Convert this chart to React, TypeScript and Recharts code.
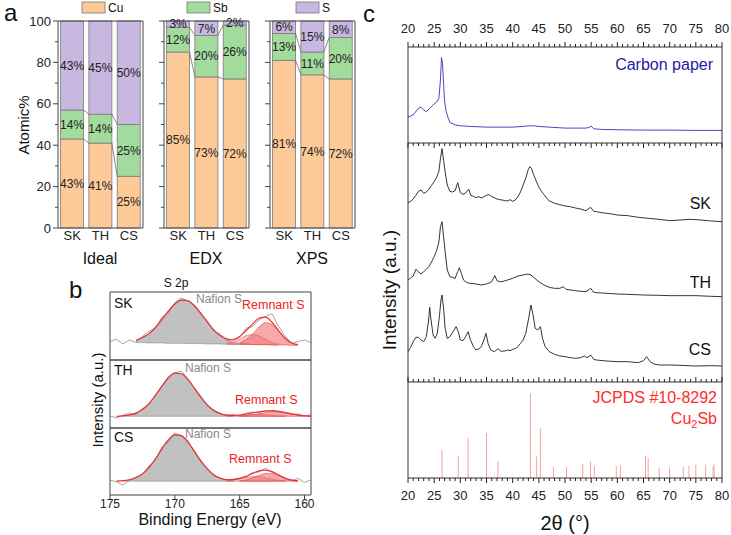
import React from "react";
import { BarChart, Bar, XAxis, YAxis, LabelList, ComposedChart, Line, Area } from "recharts";

const W = 731;
const H = 535;
const FONT = '"Liberation Sans", Arial, sans-serif';
const AX = "#444";
const N = null;

// ---------- a: composition ----------
const samples = ["SK", "TH", "CS"];
const idealCu = [43, 41, 25];
const idealSb = [14, 14, 25];
const idealS = [43, 45, 50];
const edxCu = [85, 73, 72];
const edxSb = [12, 20, 26];
const edxS = [3, 7, 2];
const xpsCu = [81, 74, 72];
const xpsSb = [13, 11, 20];
const xpsS = [6, 15, 8];
const pctTicks = [0, 10, 20, 30, 40, 50, 60, 70, 80, 90, 100];

const CU = "#FDC997";
const SB = "#A3DB9D";
const SS = "#C8B7E1";

const A_TOP = 21;
const A_BOT = 228;
const A_W = 85;

// ---------- b: XPS S 2p ----------
const xpsEv = [175, 174.5, 174, 173.5, 173, 172.5, 172, 171.5, 171, 170.5, 170, 169.5, 169, 168.5, 168, 167.5,
  167, 166.5, 166, 165.5, 165, 164.5, 164, 163.5, 163, 162.5, 162, 161.5, 161, 160.5, 160, 159.5];

const skRaw = [55, 62, 48, 60, 52, 70, 85, 95, 128, 140, 172, 185, 176, 165, 135, 118, 85, 78, 58, 62, 68, 95, 100, 120, 130, 138, 100, 72, 50, 55, 60, 52];
const skFit = [N, N, N, N, 59, 67, 78, 97, 121, 146, 167, 179, 177, 162, 140, 113, 90, 73, 63, 60, 70, 88, 107, 125, 128, 112, 88, 65, 51, 46, N, N];
const skBg = [N, N, N, N, 52, 52, 51, 51, 51, 50, 50, 50, 49, 49, 49, 48, 48, 48, 47, 47, 47, 47, 46, 46, 46, 45, 45, 45, 44, 44, N, N];
const skNaf = [N, N, N, N, 7, 15, 27, 46, 70, 96, 117, 129, 128, 113, 91, 65, 42, 24, 13, 6, 2.5, 1, N, N, N, N, N, N, N, N, N, N];
const skR1 = [N, N, N, N, N, N, N, N, N, N, N, N, N, N, N, N, N, N, N, N, 4, 14, 31, 53, 66, 60, 40, 20, 7, 2, N, N];
const skR2 = [N, N, N, N, N, N, N, N, N, N, N, N, N, N, N, N, N, N, 2.5, 7, 16, 26, 30, 26, 16, 7, 2.5, N, N, N, N, N];

const thRaw = [36, 30, 38, 45, 40, 58, 70, 100, 122, 152, 165, 170, 148, 120, 95, 66, 50, 42, 38, 40, 36, 44, 48, 45, 52, 50, 48, 46, 40, 42, 36, 40];
const thFit = [N, 35, 36, 39, 44.5, 55, 73, 97, 125, 150, 164, 162, 145, 119, 92, 69, 53, 43, 38.5, 37.4, 38.6, 41.7, 45, 48.4, 50.4, 51.6, 49.7, 45.8, 42, 38.6, 36.5, 35.5];
const thBg = [N, 35, 35, 35, 35, 35, 35, 35, 35, 35, 35, 35, 35, 35, 35, 35, 35, 35, 35, 35, 35, 35, 35, 35, 35, 35, 35, 35, 35, 35, 35, 35];
const thNaf = [N, N, 1.4, 4, 9.5, 20, 38, 62, 90, 115, 129, 127, 110, 84, 57, 34, 18, 8, 3, 1, N, N, N, N, N, N, N, N, N, N, N, N];
const thR1 = [N, N, N, N, N, N, N, N, N, N, N, N, N, N, N, N, N, N, N, N, 0.7, 2, 4.2, 7.7, 11.5, 14, 13.5, 10.8, 7, 3.6, 1.5, 0.5];
const thR2 = [N, N, N, N, N, N, N, N, N, N, N, N, N, N, N, N, N, N, 0.5, 1.4, 2.9, 4.7, 5.9, 5.7, 4.4, 2.6, 1.2, 0.5, N, N, N, N];

const csRaw = [45, 40, 30, 45, 55, 62, 88, 105, 145, 160, 188, 178, 165, 130, 100, 82, 58, 52, 45, 48, 52, 55, 68, 70, 82, 68, 62, 48, 44, 50, 38, 46];
const csFit = [N, 42, 43.5, 46.3, 52.3, 64, 83, 109, 140, 167, 182, 180, 161, 133, 104, 79, 61.5, 50.7, 46.5, 46.3, 50, 57, 65.5, 73, 75.6, 70.7, 60.8, 51.5, 45.2, 43, N, N];
const csBg = [N, 42, 42, 42, 42, 42, 42, 42, 42, 42, 42, 42, 42, 42, 42, 42, 42, 42, 42, 42, 42, 42, 42, 42, 42, 42, 42, 42, 42, 42, N, N];
const csNaf = [N, N, 1.5, 4.3, 10.3, 22, 41, 67, 98, 125, 140, 138, 119, 91, 62, 37, 19.5, 8.7, 3.3, 1, N, N, N, N, N, N, N, N, N, N, N, N];
const csR1 = [N, N, N, N, N, N, N, N, N, N, N, N, N, N, N, N, N, N, N, N, 1.2, 4, 9.8, 17.8, 23.4, 22.7, 16, 8.5, 3.2, 0.9, N, N];
const csR2 = [N, N, N, N, N, N, N, N, N, N, N, N, N, N, N, N, N, N, 1.2, 3.3, 6.8, 11, 13.7, 13.4, 10.2, 6, 2.8, 1, N, N, N, N];

const B_L = 110;
const B_R = 311;

// ---------- c: XRD ----------
const carbonPaper: [number, number][] = [[20, 78], [21, 85], [22, 105], [22.5, 108], [23, 100], [23.5, 95], [24, 102], [25, 118],
  [25.5, 124], [25.9, 135], [26.2, 190], [26.4, 258], [26.6, 240], [26.8, 180], [27, 125], [27.3, 95], [27.7, 75], [28, 62],
  [29, 55], [30, 52], [32, 50], [35, 48], [40, 48], [42, 50], [43, 52], [44, 52], [45, 50], [47, 48], [50, 45], [54, 45],
  [54.6, 47], [55, 51], [55.5, 43], [57, 41], [60, 40], [65, 39], [70, 39], [75, 38], [80, 38]];

const skPattern: [number, number][] = [[20, 538], [20.5, 542], [21, 549], [21.5, 560], [22, 572], [22.5, 576], [23, 566], [23.5, 570],
  [24, 578], [24.5, 590], [25, 601], [25.5, 615], [25.9, 632], [26.2, 670], [26.5, 700], [26.8, 665], [27.1, 630], [27.5, 591],
  [28, 572], [28.5, 570], [29, 574], [29.5, 598], [30, 568], [30.5, 563], [31, 567], [31.6, 578], [32, 560], [32.5, 557],
  [33, 553], [33.5, 556], [34, 552], [34.5, 556], [35, 560], [35.5, 562], [36, 556], [36.5, 553], [37, 549], [37.5, 547],
  [38, 546], [38.5, 544], [39, 543], [39.5, 547], [40, 542], [40.5, 546], [41, 556], [41.5, 570], [42, 591], [42.5, 612],
  [43, 638], [43.3, 646], [43.6, 640], [44, 622], [44.5, 603], [45, 585], [45.5, 572], [46, 562], [46.5, 552], [47, 543],
  [47.5, 540], [48, 536], [49, 532], [50, 528], [51, 526], [52, 522], [53, 519], [54, 514], [54.9, 524], [55.5, 512],
  [56, 511], [57, 508], [58, 506], [59, 504], [60, 501], [62, 499], [64, 494], [66, 491], [68, 488], [70, 484], [72, 486],
  [74, 488], [76, 486], [78, 483], [80, 481]];

const thPattern: [number, number][] = [[20, 306], [20.5, 312], [21, 318], [21.5, 338], [22, 331], [22.5, 324], [23, 331], [23.5, 338],
  [24, 346], [24.5, 360], [25, 376], [25.5, 396], [25.9, 420], [26.2, 466], [26.5, 481], [26.8, 436], [27.1, 390], [27.5, 336],
  [28, 316], [28.5, 314], [29, 311], [29.5, 331], [29.8, 343], [30.2, 326], [30.6, 306], [31, 301], [31.5, 297], [32, 296],
  [33, 294], [34, 291], [35, 294], [35.5, 297], [36, 301], [36.6, 319], [37, 304], [37.5, 301], [38, 301], [39, 306],
  [40, 311], [41, 318], [42, 321], [42.8, 324], [43.5, 321], [44, 314], [45, 301], [46, 291], [47, 284], [48, 281],
  [49, 281], [49.7, 286], [50.2, 278], [51, 276], [52, 274], [53, 272], [54, 271], [54.9, 281], [55.4, 270], [56, 268],
  [58, 266], [60, 264], [62, 263], [65, 261], [68, 260], [70, 259], [72, 259], [75, 259], [78, 257], [80, 256]];

const csPattern: [number, number][] = [[20, 91], [20.5, 104], [21, 121], [21.5, 134], [22, 134], [22.5, 126], [23, 121], [23.5, 136],
  [23.9, 180], [24.15, 224], [24.4, 186], [24.8, 141], [25.2, 131], [25.6, 146], [26, 196], [26.3, 246], [26.5, 261], [26.8, 221],
  [27.1, 161], [27.5, 131], [28, 136], [28.6, 151], [29.2, 166], [29.6, 151], [30, 126], [30.5, 124], [31, 136], [31.5, 151],
  [31.9, 128], [32.5, 106], [33, 96], [33.5, 99], [34, 106], [34.5, 126], [34.9, 146], [35.3, 116], [35.8, 96], [36.5, 91],
  [37.2, 100], [37.8, 92], [38.5, 93], [39, 96], [39.5, 94], [40, 98], [40.5, 100], [41, 106], [41.5, 116], [42, 126],
  [42.5, 146], [43, 186], [43.5, 231], [43.9, 201], [44.3, 161], [44.8, 156], [45.3, 166], [45.7, 131], [46.2, 106], [47, 91],
  [48, 83], [49, 78], [50, 76], [51, 73], [52, 71], [53, 73], [53.7, 78], [54.2, 73], [54.9, 81], [55.5, 68], [56, 66],
  [58, 63], [60, 61], [62, 61], [64, 58], [65, 64], [65.6, 76], [66.2, 62], [67, 54], [68, 51], [70, 51], [72, 50],
  [75, 48], [78, 49], [80, 48]];

const jcpds: [number, number][] = [[26.5, 85], [29.6, 67], [31.5, 120], [35, 135], [37.2, 50], [43.4, 255], [44.6, 65], [45.3, 150],
  [47.8, 33], [50.3, 33], [53.4, 43], [54.9, 50], [55.6, 37], [59.8, 37], [60.6, 39], [65.4, 67], [65.9, 60], [68, 29],
  [70, 32], [72.6, 33], [73.7, 37], [75, 40], [76.9, 40], [78.3, 35], [78.5, 42]];

const thetaTicks = Array.from({ length: 61 }, (_, i) => 20 + i);

const C_L = 408;
const C_R = 722;
const C_T1 = 47;
const C_T2 = 143;
const C_T3 = 382;
const C_T4 = 478;

const abs: React.CSSProperties = { position: "absolute", left: 0, top: 0 };

const pctTick = (withText: boolean) => (p: any) => {
  const { x, y, payload } = p;
  const major = payload.value % 20 === 0;
  const len = major ? 5 : 3;
  return (
    <g>
      <rect x={x - len} y={y - 0.5} width={len} height={1} fill={AX} />
      {withText && major && (
        <text x={x - 7} y={y} dy={4.5} textAnchor="end" fontSize={13} fill="#222" fontFamily={FONT}>
          {payload.value}
        </text>
      )}
    </g>
  );
};

const segShape = (tops: number[] | null) => (p: any) => {
  const { x, y, width, height, fill, index } = p;
  const ppu = (A_BOT - A_TOP) / 100;
  const gap = A_W / 3 - width;
  const next = tops && index < tops.length - 1 ? tops[index + 1] : null;
  return (
    <g>
      <rect x={x} y={y} width={width} height={height} fill={fill} stroke="#7a7a7a" strokeWidth={0.8} />
      {tops && next != null && (
        <line x1={x + width} y1={y} x2={x + width + gap} y2={y + (tops[index] - next) * ppu} stroke="#555" strokeWidth={0.7} />
      )}
    </g>
  );
};

function Composition({ cu, sb, s, left, withText }: { cu: number[]; sb: number[]; s: number[]; left: number; withText: boolean }) {
  const rows = samples.map((k, i) => ({ k, cu: cu[i], sb: sb[i], s: s[i] }));
  const sbTops = cu.map((v, i) => v + sb[i]);
  const lab = { fontSize: 12, fill: "#222", fontFamily: FONT };
  const fmt = (v: any) => `${v}%`;
  return (
    <div style={abs}>
      <BarChart width={W} height={H} data={rows} barCategoryGap="9%"
        margin={{ top: A_TOP - 1, bottom: H - A_BOT - 20, left: left - 40, right: W - left - A_W - 1 }}>
        <XAxis xAxisId="b" dataKey="k" height={20} tickLine={false} tickSize={0} tickMargin={3}
          axisLine={{ stroke: AX }} tick={{ fontSize: 13, fill: "#222", fontFamily: FONT }} />
        <XAxis xAxisId="t" dataKey="k" orientation="top" height={1} tick={false} tickLine={false} axisLine={{ stroke: AX }} />
        <YAxis yAxisId="l" width={40} domain={[0, 100]} ticks={pctTicks} interval={0} tickSize={0} tickMargin={0}
          tickLine={false} axisLine={{ stroke: AX }} tick={pctTick(withText)} />
        <YAxis yAxisId="r" orientation="right" width={1} domain={[0, 100]} tick={false} tickLine={false} axisLine={{ stroke: AX }} />
        <Bar xAxisId="b" yAxisId="l" dataKey="cu" stackId="a" fill={CU} shape={segShape(cu)} isAnimationActive={false}>
          <LabelList dataKey="cu" position="center" formatter={fmt} {...lab} />
        </Bar>
        <Bar xAxisId="b" yAxisId="l" dataKey="sb" stackId="a" fill={SB} shape={segShape(sbTops)} isAnimationActive={false}>
          <LabelList dataKey="sb" position="center" formatter={fmt} {...lab} />
        </Bar>
        <Bar xAxisId="b" yAxisId="l" dataKey="s" stackId="a" fill={SS} shape={segShape(null)} isAnimationActive={false}>
          <LabelList dataKey="s" position="center" formatter={fmt} {...lab} />
        </Bar>
      </BarChart>
    </div>
  );
}

type XpsProps = {
  top: number; bot: number; axis: boolean;
  raw: (number | null)[]; fit: (number | null)[]; bg: (number | null)[];
  naf: (number | null)[]; r1: (number | null)[]; r2: (number | null)[];
};

function XpsPanel({ top, bot, axis, raw, fit, bg, naf, r1, r2 }: XpsProps) {
  const range = (arr: (number | null)[], i: number) =>
    arr[i] == null || bg[i] == null ? null : [bg[i] as number, (bg[i] as number) + (arr[i] as number)];
  const rows = xpsEv.map((ev, i) => ({ ev, raw: raw[i], fit: fit[i], naf: range(naf, i), r1: range(r1, i), r2: range(r2, i) }));
  const xh = axis ? 24 : 1;
  return (
    <div style={abs}>
      <ComposedChart width={W} height={H} data={rows}
        margin={{ top: top - 1, bottom: H - bot - xh, left: B_L - 1, right: W - B_R - 1 }}>
        <XAxis xAxisId="b" dataKey="ev" type="number" domain={[159.5, 175]} reversed allowDataOverflow
          ticks={[175, 170, 165, 160]} interval={0} height={xh}
          tick={axis ? { fontSize: 12, fill: "#222", fontFamily: FONT } : false}
          tickLine={axis ? { stroke: AX } : false} tickSize={4} tickMargin={0} axisLine={{ stroke: AX }} />
        <XAxis xAxisId="t" dataKey="ev" type="number" orientation="top" domain={[159.5, 175]} reversed allowDataOverflow
          height={1} tick={false} tickLine={false} axisLine={{ stroke: AX }} />
        <YAxis yAxisId="l" width={1} domain={[0, 203]} allowDataOverflow tick={false} tickLine={false} axisLine={{ stroke: AX }} />
        <YAxis yAxisId="r" orientation="right" width={1} domain={[0, 203]} tick={false} tickLine={false} axisLine={{ stroke: AX }} />
        <Area xAxisId="b" yAxisId="l" dataKey="naf" type="monotone" fill="#b2b2b2" fillOpacity={0.8} stroke="#8a8a8a" strokeWidth={0.6} isAnimationActive={false} />
        <Area xAxisId="b" yAxisId="l" dataKey="r2" type="monotone" fill="#f27a7a" fillOpacity={0.45} stroke="#e05a5a" strokeWidth={0.6} isAnimationActive={false} />
        <Area xAxisId="b" yAxisId="l" dataKey="r1" type="monotone" fill="#f06262" fillOpacity={0.55} stroke="#e04848" strokeWidth={0.6} isAnimationActive={false} />
        <Line xAxisId="b" yAxisId="l" dataKey="raw" type="linear" stroke="#8e8e8e" strokeWidth={0.8} dot={false} isAnimationActive={false} />
        <Line xAxisId="b" yAxisId="l" dataKey="fit" type="monotone" stroke="#f03030" strokeWidth={1.2} dot={false} isAnimationActive={false} />
      </ComposedChart>
    </div>
  );
}

// tick factory for the 2θ axes: way -1 draws the mark upward, 1 downward; numDy places the number
const thetaTick = (way: number, numDy: number | null) => (p: any) => {
  const { x, y, payload } = p;
  const v = payload.value;
  const len = v % 5 === 0 ? 5 : 3;
  return (
    <g>
      <rect x={x - 0.5} y={way > 0 ? y : y - len} width={1} height={len} fill="#222" />
      {numDy != null && v % 5 === 0 && (
        <text x={x} y={y + numDy} textAnchor="middle" fontSize={13} fill="#222" fontFamily={FONT}>{v}</text>
      )}
    </g>
  );
};

const toRows = (pts: [number, number][]) => pts.map(([t, v]) => ({ t, v }));

function XrdTop() {
  return (
    <div style={abs}>
      <ComposedChart width={W} height={H} data={toRows(carbonPaper)}
        margin={{ top: C_T1 - 20, bottom: H - C_T2 - 1, left: C_L - 1, right: W - C_R - 1 }}>
        <XAxis xAxisId="t" orientation="top" dataKey="t" type="number" domain={[20, 80]} ticks={thetaTicks} interval={0}
          height={20} tickSize={0} tickMargin={0} tickLine={false} axisLine={{ stroke: "#333" }}
          tick={thetaTick(-1, -14)} />
        <XAxis xAxisId="b" dataKey="t" type="number" domain={[20, 80]} ticks={thetaTicks} interval={0}
          height={1} tickSize={0} tickMargin={0} tickLine={false} axisLine={{ stroke: "#333" }}
          tick={thetaTick(1, null)} />
        <YAxis yAxisId="l" width={1} domain={[0, 290]} tick={false} tickLine={false} axisLine={{ stroke: "#333" }} />
        <YAxis yAxisId="r" orientation="right" width={1} domain={[0, 290]} tick={false} tickLine={false} axisLine={{ stroke: "#333" }} />
        <Line xAxisId="b" yAxisId="l" dataKey="v" type="linear" stroke="#4848c4" strokeWidth={1} dot={false} isAnimationActive={false} />
      </ComposedChart>
    </div>
  );
}

function XrdMiddle() {
  const patterns = [skPattern, thPattern, csPattern];
  return (
    <div style={abs}>
      <ComposedChart width={W} height={H} data={toRows(skPattern)}
        margin={{ top: C_T2, bottom: H - C_T3, left: C_L - 1, right: W - C_R - 1 }}>
        <XAxis xAxisId="b" dataKey="t" type="number" domain={[20, 80]} hide />
        <YAxis yAxisId="l" width={1} domain={[0, 717]} tick={false} tickLine={false} axisLine={{ stroke: "#333" }} />
        <YAxis yAxisId="r" orientation="right" width={1} domain={[0, 717]} tick={false} tickLine={false} axisLine={{ stroke: "#333" }} />
        {patterns.map((p, i) => (
          <Line key={i} xAxisId="b" yAxisId="l" data={toRows(p)} dataKey="v" type="linear" stroke="#1e1e1e" strokeWidth={0.9} dot={false} isAnimationActive={false} />
        ))}
      </ComposedChart>
    </div>
  );
}

function XrdBottom() {
  return (
    <div style={abs}>
      <ComposedChart width={W} height={H} data={toRows(jcpds)} margin={{ top: C_T3 - 1, bottom: H - C_T4 - 25, left: C_L - 1, right: W - C_R - 1 }}>
        <XAxis xAxisId="t" orientation="top" dataKey="t" type="number" domain={[20, 80]} ticks={thetaTicks} interval={0}
          height={1} tickSize={0} tickMargin={0} tickLine={false} axisLine={{ stroke: "#333" }}
          tick={thetaTick(-1, null)} />
        <XAxis xAxisId="b" dataKey="t" type="number" domain={[20, 80]} ticks={thetaTicks} interval={0}
          height={25} tickSize={0} tickMargin={0} tickLine={false} axisLine={{ stroke: "#333" }}
          tick={thetaTick(1, 22)} />
        <YAxis yAxisId="l" width={1} domain={[0, 289]} tick={false} tickLine={false} axisLine={{ stroke: "#333" }} />
        <YAxis yAxisId="r" orientation="right" width={1} domain={[0, 289]} tick={false} tickLine={false} axisLine={{ stroke: "#333" }} />
        <Bar xAxisId="b" yAxisId="l" dataKey="v" barSize={2} fill="#f59c9c" isAnimationActive={false} />
      </ComposedChart>
    </div>
  );
}

function Texts() {
  const t = { fontFamily: FONT, fill: "#111" } as const;
  return (
    <svg width={W} height={H} style={{ ...abs, pointerEvents: "none" }}>
      {/* a */}
      <text x={4} y={21} fontSize={24} {...t}>a</text>
      <rect x={82} y={2} width={23} height={11} fill={CU} stroke="#777" strokeWidth={0.8} />
      <text x={108} y={12} fontSize={12} {...t}>Cu</text>
      <rect x={187} y={2} width={23} height={11} fill={SB} stroke="#777" strokeWidth={0.8} />
      <text x={213} y={12} fontSize={12} {...t}>Sb</text>
      <rect x={296} y={2} width={23} height={11} fill={SS} stroke="#777" strokeWidth={0.8} />
      <text x={322} y={12} fontSize={12} {...t}>S</text>
      <text transform="translate(29,125) rotate(-90)" textAnchor="middle" fontSize={15} {...t}>Atomic%</text>
      <text x={100} y={264} textAnchor="middle" fontSize={16} {...t}>Ideal</text>
      <text x={206} y={264} textAnchor="middle" fontSize={16} {...t}>EDX</text>
      <text x={312} y={264} textAnchor="middle" fontSize={16} {...t}>XPS</text>
      {/* b */}
      <text x={69} y={298} fontSize={24} {...t}>b</text>
      <text x={176} y={287} textAnchor="middle" fontSize={12} {...t}>S 2p</text>
      <text x={114} y={308} fontSize={14} {...t}>SK</text>
      <text x={114} y={375} fontSize={14} {...t}>TH</text>
      <text x={114} y={442} fontSize={14} {...t}>CS</text>
      <text x={196} y={303} fontSize={12} fontFamily={FONT} fill="#8a8a8a">Nafion S</text>
      <text x={185} y={372} fontSize={12} fontFamily={FONT} fill="#8a8a8a">Nafion S</text>
      <text x={185} y={438} fontSize={12} fontFamily={FONT} fill="#8a8a8a">Nafion S</text>
      <text x={242} y={309} fontSize={12.5} fontFamily={FONT} fill="#ee2222">Remnant S</text>
      <text x={235} y={404} fontSize={12.5} fontFamily={FONT} fill="#ee2222">Remnant S</text>
      <text x={229} y={463} fontSize={12.5} fontFamily={FONT} fill="#ee2222">Remnant S</text>
      <text transform="translate(103,400) rotate(-90)" textAnchor="middle" fontSize={15} {...t}>Intensity (a.u.)</text>
      <text x={210} y={525} textAnchor="middle" fontSize={16} {...t}>Binding Energy (eV)</text>
      {/* c */}
      <text x={363} y={22} fontSize={24} {...t}>c</text>
      <text x={713} y={70} textAnchor="end" fontSize={16} fontFamily={FONT} fill="#2222a8">Carbon paper</text>
      <text x={711} y={209} textAnchor="end" fontSize={16} {...t}>SK</text>
      <text x={711} y={288} textAnchor="end" fontSize={16} {...t}>TH</text>
      <text x={711} y={355} textAnchor="end" fontSize={16} {...t}>CS</text>
      <text transform="translate(396,290) rotate(-90)" textAnchor="middle" fontSize={19} {...t}>Intensity (a.u.)</text>
      <text x={717} y={403} textAnchor="end" fontSize={16} fontFamily={FONT} fill="#ff2a2a">JCPDS #10-8292</text>
      <text x={717} y={424} textAnchor="end" fontSize={16} fontFamily={FONT} fill="#ff2a2a">
        Cu<tspan fontSize={11} dy={4}>2</tspan><tspan dy={-4}>Sb</tspan>
      </text>
      <text x={565} y={530} textAnchor="middle" fontSize={20} {...t}>2θ (°)</text>
    </svg>
  );
}

export default function App() {
  return (
    <div style={{ position: "absolute", left: 0, top: 0, width: W, height: H, background: "#fff", fontFamily: FONT }}>
      <Composition cu={idealCu} sb={idealSb} s={idealS} left={58} withText />
      <Composition cu={edxCu} sb={edxSb} s={edxS} left={164} withText={false} />
      <Composition cu={xpsCu} sb={xpsSb} s={xpsS} left={270} withText={false} />
      <XpsPanel top={292} bot={360} axis={false} raw={skRaw} fit={skFit} bg={skBg} naf={skNaf} r1={skR1} r2={skR2} />
      <XpsPanel top={360} bot={428} axis={false} raw={thRaw} fit={thFit} bg={thBg} naf={thNaf} r1={thR1} r2={thR2} />
      <XpsPanel top={428} bot={495} axis raw={csRaw} fit={csFit} bg={csBg} naf={csNaf} r1={csR1} r2={csR2} />
      <XrdTop />
      <XrdMiddle />
      <XrdBottom />
      <Texts />
    </div>
  );
}
